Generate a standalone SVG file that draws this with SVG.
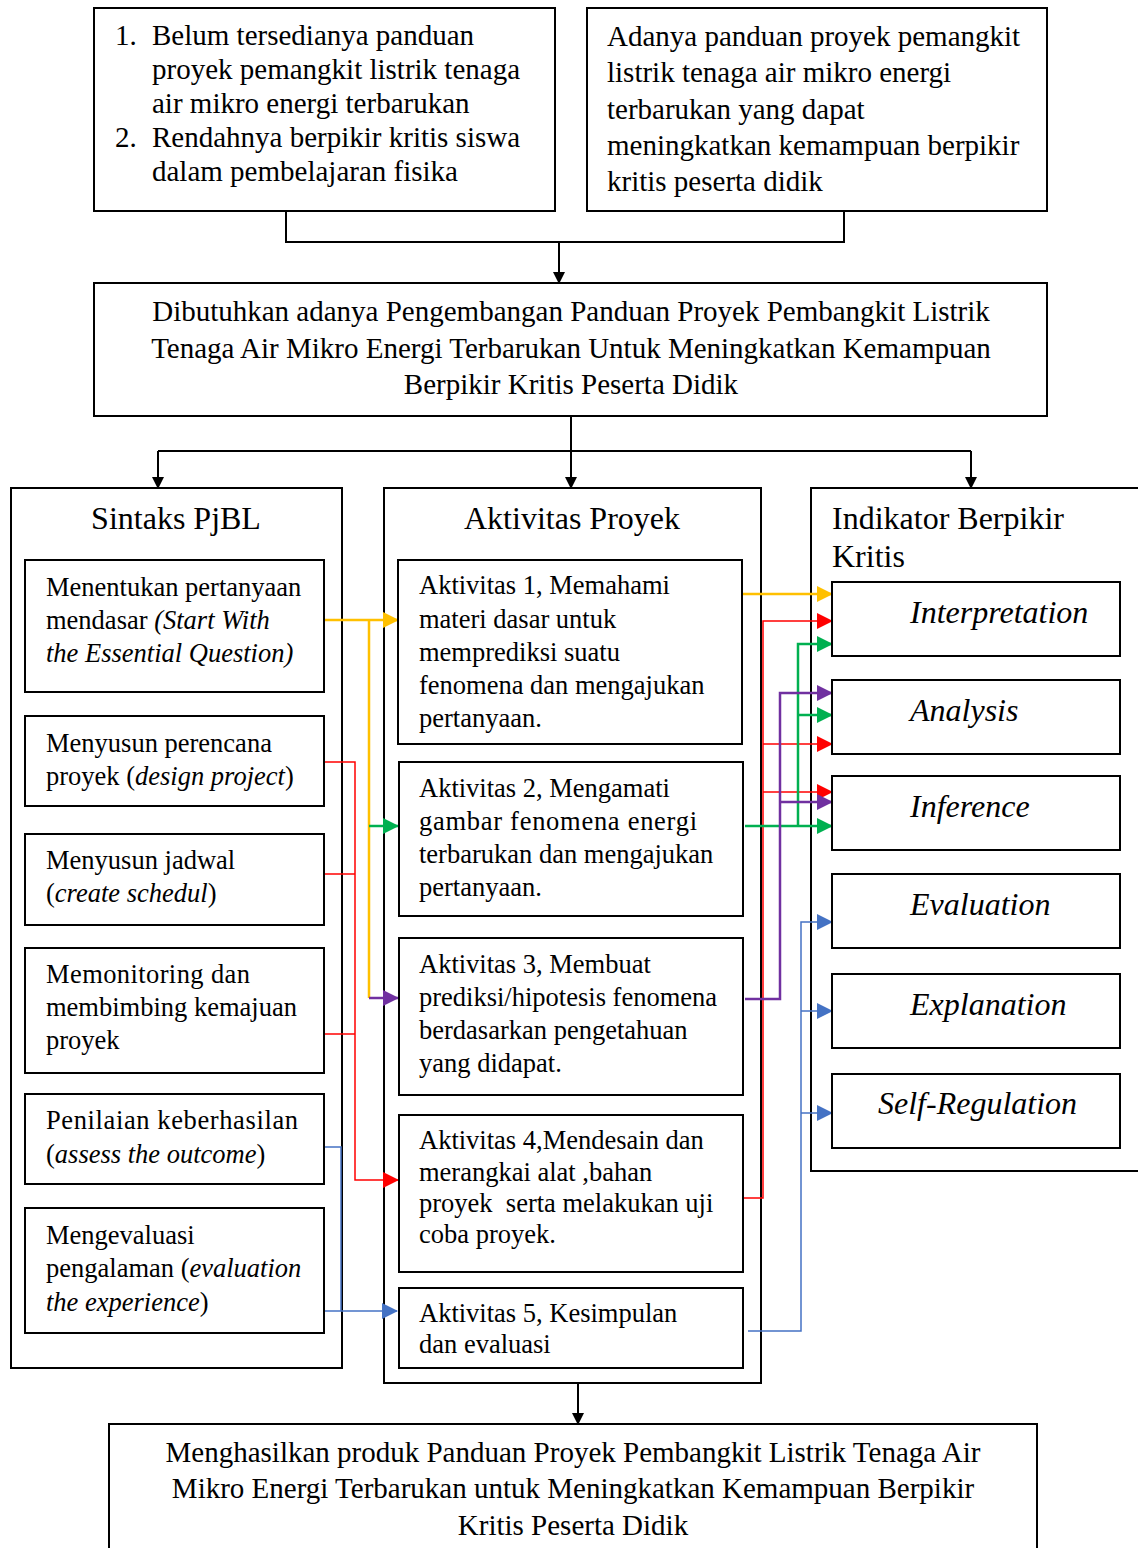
<svg xmlns="http://www.w3.org/2000/svg" width="1138" height="1548" viewBox="0 0 1138 1548">
<style>
.box{fill:#fff;stroke:#000;stroke-width:2}
.t{font-family:"Liberation Serif","Times New Roman",serif;font-size:29px;fill:#000}
.s{font-family:"Liberation Serif","Times New Roman",serif;font-size:26.5px;fill:#000}
.h{font-family:"Liberation Serif","Times New Roman",serif;font-size:32px;fill:#000}
.it{font-family:"Liberation Serif","Times New Roman",serif;font-size:32px;font-style:italic;fill:#000}
.c{text-anchor:middle}
.i{font-style:italic}
.k{fill:none;stroke:#000;stroke-width:2}
.y{fill:none;stroke:#FFC000;stroke-width:2.5}
.r{fill:none;stroke:#FF0000;stroke-width:1.5}
.g{fill:none;stroke:#00B050;stroke-width:2.5}
.p{fill:none;stroke:#7030A0;stroke-width:2.5}
.b{fill:none;stroke:#4472C4;stroke-width:1.5}
</style>
<defs>
<marker id="ak" markerWidth="12" markerHeight="12" refX="10" refY="6" orient="auto" markerUnits="userSpaceOnUse"><path d="M0,0 L12,6 L0,12 Z" fill="#000"/></marker>
<marker id="ay" markerWidth="16" markerHeight="16" refX="15" refY="8" orient="auto" markerUnits="userSpaceOnUse"><path d="M0,0 L16,8 L0,16 Z" fill="#FFC000"/></marker>
<marker id="ar" markerWidth="16" markerHeight="16" refX="15" refY="8" orient="auto" markerUnits="userSpaceOnUse"><path d="M0,0 L16,8 L0,16 Z" fill="#FF0000"/></marker>
<marker id="ag" markerWidth="16" markerHeight="16" refX="15" refY="8" orient="auto" markerUnits="userSpaceOnUse"><path d="M0,0 L16,8 L0,16 Z" fill="#00B050"/></marker>
<marker id="ap" markerWidth="16" markerHeight="16" refX="15" refY="8" orient="auto" markerUnits="userSpaceOnUse"><path d="M0,0 L16,8 L0,16 Z" fill="#7030A0"/></marker>
<marker id="ab" markerWidth="16" markerHeight="16" refX="15" refY="8" orient="auto" markerUnits="userSpaceOnUse"><path d="M0,0 L16,8 L0,16 Z" fill="#4472C4"/></marker>
</defs>
<rect width="1138" height="1548" fill="#fff"/>

<g id="columns">
<rect class="box" x="11" y="488" width="331" height="880"/>
<text class="h c" x="176" y="529">Sintaks PjBL</text>
<rect class="box" x="384" y="488" width="377" height="895"/>
<text class="h c" x="572" y="529">Aktivitas Proyek</text>
<rect class="box" x="811" y="488" width="340" height="683"/>
<text class="h" x="832" y="529">Indikator Berpikir</text>
<text class="h" x="832" y="567">Kritis</text>
</g>

<g id="connectors">
<path class="k" d="M286,211 V242 H844 V211"/>
<path class="k" d="M559,242 V282" marker-end="url(#ak)"/>
<path class="k" d="M571,416 V451"/>
<path class="k" d="M158,451 H971"/>
<path class="k" d="M158,451 V487" marker-end="url(#ak)"/>
<path class="k" d="M571,451 V487" marker-end="url(#ak)"/>
<path class="k" d="M971,451 V487" marker-end="url(#ak)"/>
<path class="k" d="M578,1383 V1423" marker-end="url(#ak)"/>
<path class="y" d="M324,620 H398" marker-end="url(#ay)"/>
<path class="y" d="M369,620 V998"/>
<path class="g" d="M369,826 H398" marker-end="url(#ag)"/>
<path class="p" d="M369,998 H398" marker-end="url(#ap)"/>
<path class="r" d="M324,762 H355 V1180 H398" marker-end="url(#ar)"/>
<path class="r" d="M324,874 H355"/>
<path class="r" d="M324,1034 H355"/>
<path class="b" d="M324,1147 H341 V1311"/>
<path class="b" d="M324,1311 H397" marker-end="url(#ab)"/>
<path class="y" d="M743,594 H832" marker-end="url(#ay)"/>
<path class="r" d="M743,1198 H763 V621 H832" marker-end="url(#ar)"/>
<path class="r" d="M763,744 H832" marker-end="url(#ar)"/>
<path class="r" d="M763,792 H832" marker-end="url(#ar)"/>
<path class="g" d="M745,826 H832" marker-end="url(#ag)"/>
<path class="g" d="M798,826 V644 H832" marker-end="url(#ag)"/>
<path class="g" d="M798,715 H832" marker-end="url(#ag)"/>
<path class="p" d="M745,999 H780 V693 H832" marker-end="url(#ap)"/>
<path class="p" d="M780,802 H832" marker-end="url(#ap)"/>
<path class="b" d="M748,1331 H801 V922 H832" marker-end="url(#ab)"/>
<path class="b" d="M801,1011 H832" marker-end="url(#ab)"/>
<path class="b" d="M801,1113 H832" marker-end="url(#ab)"/>
</g>

<g id="problem">
<rect class="box" x="94" y="8" width="461" height="203"/>
<text class="t" x="115" y="45">1.</text>
<text class="t" x="152" y="45">Belum tersedianya panduan</text>
<text class="t" x="152" y="79">proyek pemangkit listrik tenaga</text>
<text class="t" x="152" y="113">air mikro energi terbarukan</text>
<text class="t" x="115" y="147">2.</text>
<text class="t" x="152" y="147">Rendahnya berpikir kritis siswa</text>
<text class="t" x="152" y="181">dalam pembelajaran fisika</text>
</g>

<g id="expectation">
<rect class="box" x="587" y="8" width="460" height="203"/>
<text class="t" x="607" y="46">Adanya panduan proyek pemangkit</text>
<text class="t" x="607" y="82">listrik tenaga air mikro energi</text>
<text class="t" x="607" y="119">terbarukan yang dapat</text>
<text class="t" x="607" y="155">meningkatkan kemampuan berpikir</text>
<text class="t" x="607" y="191">kritis peserta didik</text>
</g>

<g id="need">
<rect class="box" x="94" y="283" width="953" height="133"/>
<text class="t c" x="571" y="321">Dibutuhkan adanya Pengembangan Panduan Proyek Pembangkit Listrik</text>
<text class="t c" x="571" y="358">Tenaga Air Mikro Energi Terbarukan Untuk Meningkatkan Kemampuan</text>
<text class="t c" x="571" y="394">Berpikir Kritis Peserta Didik</text>
</g>

<g id="s1">
<rect class="box" x="25" y="560" width="299" height="132"/>
<text class="s" x="46" y="596">Menentukan pertanyaan</text>
<text class="s" x="46" y="629">mendasar <tspan class="i">(Start With</tspan></text>
<text class="s i" x="46" y="662">the Essential Question)</text>
</g>
<g id="s2">
<rect class="box" x="25" y="716" width="299" height="90"/>
<text class="s" x="46" y="752">Menyusun perencana</text>
<text class="s" x="46" y="785">proyek (<tspan class="i">design project</tspan>)</text>
</g>
<g id="s3">
<rect class="box" x="25" y="834" width="299" height="91"/>
<text class="s" x="46" y="869">Menyusun jadwal</text>
<text class="s" x="46" y="902">(<tspan class="i">create schedul</tspan>)</text>
</g>
<g id="s4">
<rect class="box" x="25" y="948" width="299" height="125"/>
<text class="s" x="46" y="983" textLength="204" lengthAdjust="spacing">Memonitoring dan</text>
<text class="s" x="46" y="1016">membimbing kemajuan</text>
<text class="s" x="46" y="1049">proyek</text>
</g>
<g id="s5">
<rect class="box" x="25" y="1094" width="299" height="90"/>
<text class="s" x="46" y="1129" textLength="252" lengthAdjust="spacing">Penilaian keberhasilan</text>
<text class="s" x="46" y="1163">(<tspan class="i">assess the outcome</tspan>)</text>
</g>
<g id="s6">
<rect class="box" x="25" y="1208" width="299" height="125"/>
<text class="s" x="46" y="1244">Mengevaluasi</text>
<text class="s" x="46" y="1277">pengalaman (<tspan class="i">evaluation</tspan></text>
<text class="s" x="46" y="1311"><tspan class="i">the experience</tspan>)</text>
</g>

<g id="a1">
<rect class="box" x="398" y="560" width="344" height="184"/>
<text class="s" x="419" y="594">Aktivitas 1, Memahami</text>
<text class="s" x="419" y="628">materi dasar untuk</text>
<text class="s" x="419" y="661">memprediksi suatu</text>
<text class="s" x="419" y="694">fenomena dan mengajukan</text>
<text class="s" x="419" y="727">pertanyaan.</text>
</g>
<g id="a2">
<rect class="box" x="399" y="762" width="344" height="154"/>
<text class="s" x="419" y="797">Aktivitas 2, Mengamati</text>
<text class="s" x="419" y="830" textLength="278" lengthAdjust="spacing">gambar fenomena energi</text>
<text class="s" x="419" y="863">terbarukan dan mengajukan</text>
<text class="s" x="419" y="896">pertanyaan.</text>
</g>
<g id="a3">
<rect class="box" x="399" y="938" width="344" height="157"/>
<text class="s" x="419" y="973">Aktivitas 3, Membuat</text>
<text class="s" x="419" y="1006">prediksi/hipotesis fenomena</text>
<text class="s" x="419" y="1039">berdasarkan pengetahuan</text>
<text class="s" x="419" y="1072">yang didapat.</text>
</g>
<g id="a4">
<rect class="box" x="399" y="1115" width="344" height="157"/>
<text class="s" x="419" y="1149">Aktivitas 4,Mendesain dan</text>
<text class="s" x="419" y="1181">merangkai alat ,bahan</text>
<text class="s" x="419" y="1212" xml:space="preserve">proyek  serta melakukan uji</text>
<text class="s" x="419" y="1243">coba proyek.</text>
</g>
<g id="a5">
<rect class="box" x="399" y="1288" width="344" height="80"/>
<text class="s" x="419" y="1322">Aktivitas 5, Kesimpulan</text>
<text class="s" x="419" y="1353">dan evaluasi</text>
</g>

<g id="i1"><rect class="box" x="832" y="582" width="288" height="74"/><text class="it" x="910" y="623">Interpretation</text></g>
<g id="i2"><rect class="box" x="832" y="680" width="288" height="74"/><text class="it" x="910" y="721">Analysis</text></g>
<g id="i3"><rect class="box" x="832" y="776" width="288" height="74"/><text class="it" x="910" y="817">Inference</text></g>
<g id="i4"><rect class="box" x="832" y="874" width="288" height="74"/><text class="it" x="910" y="915">Evaluation</text></g>
<g id="i5"><rect class="box" x="832" y="974" width="288" height="74"/><text class="it" x="910" y="1015">Explanation</text></g>
<g id="i6"><rect class="box" x="832" y="1074" width="288" height="74"/><text class="it" x="878" y="1114">Self-Regulation</text></g>

<g id="result">
<rect class="box" x="109" y="1424" width="928" height="140"/>
<text class="t c" x="573" y="1462">Menghasilkan produk Panduan Proyek Pembangkit Listrik Tenaga Air</text>
<text class="t c" x="573" y="1498">Mikro Energi Terbarukan untuk Meningkatkan Kemampuan Berpikir</text>
<text class="t c" x="573" y="1535">Kritis Peserta Didik</text>
</g>
</svg>
